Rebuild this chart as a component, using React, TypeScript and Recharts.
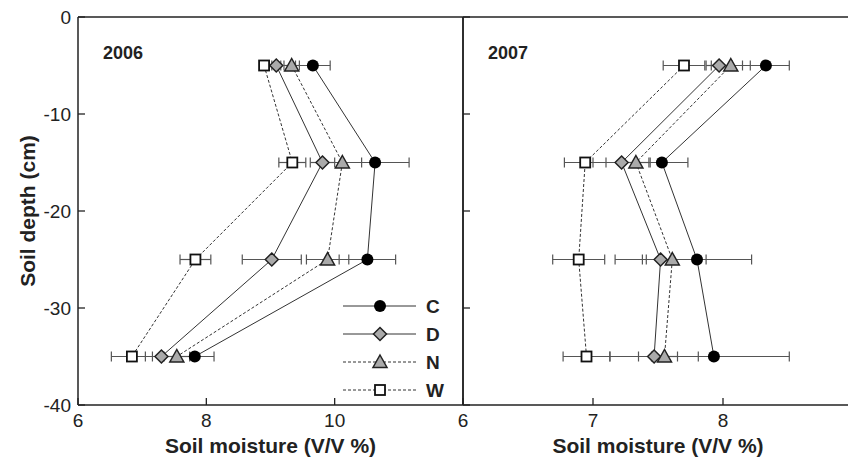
import React from 'react';
import { ScatterChart, Scatter, XAxis, YAxis, ErrorBar, ReferenceLine, Legend, Label } from 'recharts';

// depths (cm) shared by every profile
const DEPTHS = [-5, -15, -25, -35];
const SERIES_NAMES = ['C', 'D', 'N', 'W'];

// 2006 soil moisture and standard errors
const C_2006 = [9.66, 10.63, 10.51, 7.82];
const C_2006_ERR = [0.27, 0.53, 0.44, 0.3];
const D_2006 = [9.09, 9.81, 9.02, 7.3];
const D_2006_ERR = [0.07, 0.19, 0.46, 0.25];
const N_2006 = [9.33, 10.12, 9.89, 7.54];
const N_2006_ERR = [0.12, 0.3, 0.33, 0.2];
const W_2006 = [8.9, 9.34, 7.83, 6.84];
const W_2006_ERR = [0.07, 0.21, 0.24, 0.32];

// 2007
const C_2007 = [8.33, 7.53, 7.8, 7.93];
const C_2007_ERR = [0.18, 0.2, 0.42, 0.58];
const D_2007 = [7.97, 7.22, 7.52, 7.47];
const D_2007_ERR = [0.1, 0.22, 0.35, 0.34];
const N_2007 = [8.06, 7.33, 7.61, 7.55];
const N_2007_ERR = [0.15, 0.1, 0.2, 0.1];
const W_2007 = [7.7, 6.94, 6.89, 6.95];
const W_2007_ERR = [0.16, 0.16, 0.2, 0.18];

const Y_TICKS = [0, -10, -20, -30, -40];
const X_TICKS_2006 = [6, 8, 10];
const X_TICKS_2007 = [6, 7, 8, 9];

const FONT = '"Liberation Sans", Arial, Helvetica, sans-serif';
const INK = '#222';

const toRows = (vals: number[], errs: number[]) =>
    vals.map((m, i) => ({ m, d: DEPTHS[i], e: errs[i] }));

const DATA_2006 = [
    toRows(C_2006, C_2006_ERR),
    toRows(D_2006, D_2006_ERR),
    toRows(N_2006, N_2006_ERR),
    toRows(W_2006, W_2006_ERR),
];
const DATA_2007 = [
    toRows(C_2007, C_2007_ERR),
    toRows(D_2007, D_2007_ERR),
    toRows(N_2007, N_2007_ERR),
    toRows(W_2007, W_2007_ERR),
];

const DASHED: Record<string, boolean> = { C: false, D: false, N: true, W: true };

const Marker = ({ kind, cx, cy }: { kind: string; cx: number; cy: number }) => {
    if (kind === 'C') return <circle cx={cx} cy={cy} r={6} fill="#000" />;
    if (kind === 'D')
        return (
            <polygon
                points={`${cx},${cy - 6.5} ${cx + 6.5},${cy} ${cx},${cy + 6.5} ${cx - 6.5},${cy}`}
                fill="#aaa"
                stroke={INK}
                strokeWidth={1.5}
            />
        );
    if (kind === 'N')
        return (
            <polygon
                points={`${cx},${cy - 7} ${cx + 7},${cy + 5.5} ${cx - 7},${cy + 5.5}`}
                fill="#aaa"
                stroke={INK}
                strokeWidth={1.5}
            />
        );
    return <rect x={cx - 5} y={cy - 5} width={10} height={10} fill="#fff" stroke="#111" strokeWidth={1.8} />;
};

const XTick = ({ x, y, payload }: any) => (
    <g>
        <line x1={x} x2={x} y1={y} y2={y - 7} stroke={INK} strokeWidth={1.3} />
        <text x={x} y={y + 15} textAnchor="middle" dominantBaseline="central" fontFamily={FONT} fontSize={19} fill={INK}>
            {payload.value}
        </text>
    </g>
);

const YTick = ({ x, y, payload, showLabel }: any) => (
    <g>
        <line x1={x} x2={x + 7} y1={y} y2={y} stroke={INK} strokeWidth={1.3} />
        {showLabel && (
            <text x={x - 7} y={y} textAnchor="end" dominantBaseline="central" fontFamily={FONT} fontSize={19} fill={INK}>
                {payload.value}
            </text>
        )}
    </g>
);

const LegendBox = () => (
    <svg width={115} height={115} style={{ display: 'block' }}>
        {SERIES_NAMES.map((name, i) => {
            const y = 16 + i * 28;
            return (
                <g key={name}>
                    <line x1={8} x2={81} y1={y} y2={y} stroke="#333" strokeWidth={1} strokeDasharray={DASHED[name] ? '3 2' : undefined} />
                    <Marker kind={name} cx={45} cy={y} />
                    <text x={91} y={y} dominantBaseline="central" fontFamily={FONT} fontWeight="bold" fontSize={19} fill={INK}>
                        {name}
                    </text>
                </g>
            );
        })}
    </svg>
);

const renderSeries = (data: any[][]) =>
    SERIES_NAMES.map((name, i) => (
        <Scatter
            key={name}
            name={name}
            data={data[i]}
            fill="#000"
            isAnimationActive={false}
            line={{ stroke: '#333', strokeWidth: 1, strokeDasharray: DASHED[name] ? '3 2' : undefined }}
            shape={(p: any) => <Marker kind={name} cx={p.cx} cy={p.cy} />}
        >
            <ErrorBar dataKey="e" direction="x" width={5} stroke="#555" strokeWidth={1.2} />
        </Scatter>
    ));

const yearLabel = (text: string) => (props: any) => {
    const vb = props.viewBox || {};
    return (
        <text x={vb.x + 25} y={vb.y + 36} dominantBaseline="central" fontFamily={FONT} fontWeight="bold" fontSize={18} fill={INK}>
            {text}
        </text>
    );
};

const xTitle = (props: any) => {
    const vb = props.viewBox || {};
    return (
        <text x={vb.x + vb.width / 2} y={vb.y + 40} textAnchor="middle" dominantBaseline="central" fontFamily={FONT} fontWeight="bold" fontSize={21} fill={INK}>
            Soil moisture (V/V %)
        </text>
    );
};

const yTitle = (props: any) => {
    const vb = props.viewBox || {};
    const cy = vb.y + vb.height / 2;
    return (
        <text x={27} y={cy} transform={`rotate(-90, 27, ${cy})`} textAnchor="middle" dominantBaseline="central" fontFamily={FONT} fontWeight="bold" fontSize={21} fill={INK}>
            Soil depth (cm)
        </text>
    );
};

const axisLine = { stroke: INK, strokeWidth: 1.5 };

export default function App() {
    return (
        <div style={{ position: 'absolute', left: 0, top: 0, width: 848, height: 459, overflow: 'hidden', background: '#fff' }}>
            {/* 2006 panel */}
            <div style={{ position: 'absolute', left: 0, top: 0 }}>
                <ScatterChart width={464} height={459} margin={{ top: 17, right: 1, bottom: 0, left: 28 }}>
                    <XAxis type="number" dataKey="m" domain={[6, 12]} ticks={X_TICKS_2006} interval={0} allowDataOverflow height={54}
                        axisLine={axisLine} tickLine={false} tickSize={0} tickMargin={0} tick={<XTick />}>
                        <Label content={xTitle} />
                    </XAxis>
                    <YAxis type="number" dataKey="d" domain={[-40, 0]} ticks={Y_TICKS} interval={0} allowDataOverflow width={50}
                        axisLine={axisLine} tickLine={false} tickSize={0} tickMargin={0} tick={<YTick showLabel />}>
                        <Label content={yTitle} />
                    </YAxis>
                    <ReferenceLine y={0} stroke={INK} strokeWidth={1.5} label={yearLabel('2006')} />
                    <ReferenceLine x={12} stroke={INK} strokeWidth={1.5} />
                    {renderSeries(DATA_2006)}
                    <Legend
                        layout="vertical"
                        align="center"
                        verticalAlign="middle"
                        content={() => <LegendBox />}
                        wrapperStyle={{ position: 'absolute', left: 335, top: 290, width: 115, height: 115 }}
                    />
                </ScatterChart>
            </div>
            {/* 2007 panel */}
            <div style={{ position: 'absolute', left: 443, top: 0 }}>
                <ScatterChart width={420} height={459} margin={{ top: 17, right: 10, bottom: 0, left: 0 }}>
                    <XAxis type="number" dataKey="m" domain={[6, 9]} ticks={X_TICKS_2007} interval={0} allowDataOverflow height={54}
                        axisLine={axisLine} tickLine={false} tickSize={0} tickMargin={0} tick={<XTick />}>
                        <Label content={xTitle} />
                    </XAxis>
                    <YAxis type="number" dataKey="d" domain={[-40, 0]} ticks={Y_TICKS} interval={0} allowDataOverflow width={20}
                        axisLine={axisLine} tickLine={false} tickSize={0} tickMargin={0} tick={<YTick />} />
                    <ReferenceLine y={0} stroke={INK} strokeWidth={1.5} label={yearLabel('2007')} />
                    {renderSeries(DATA_2007)}
                </ScatterChart>
            </div>
        </div>
    );
}
